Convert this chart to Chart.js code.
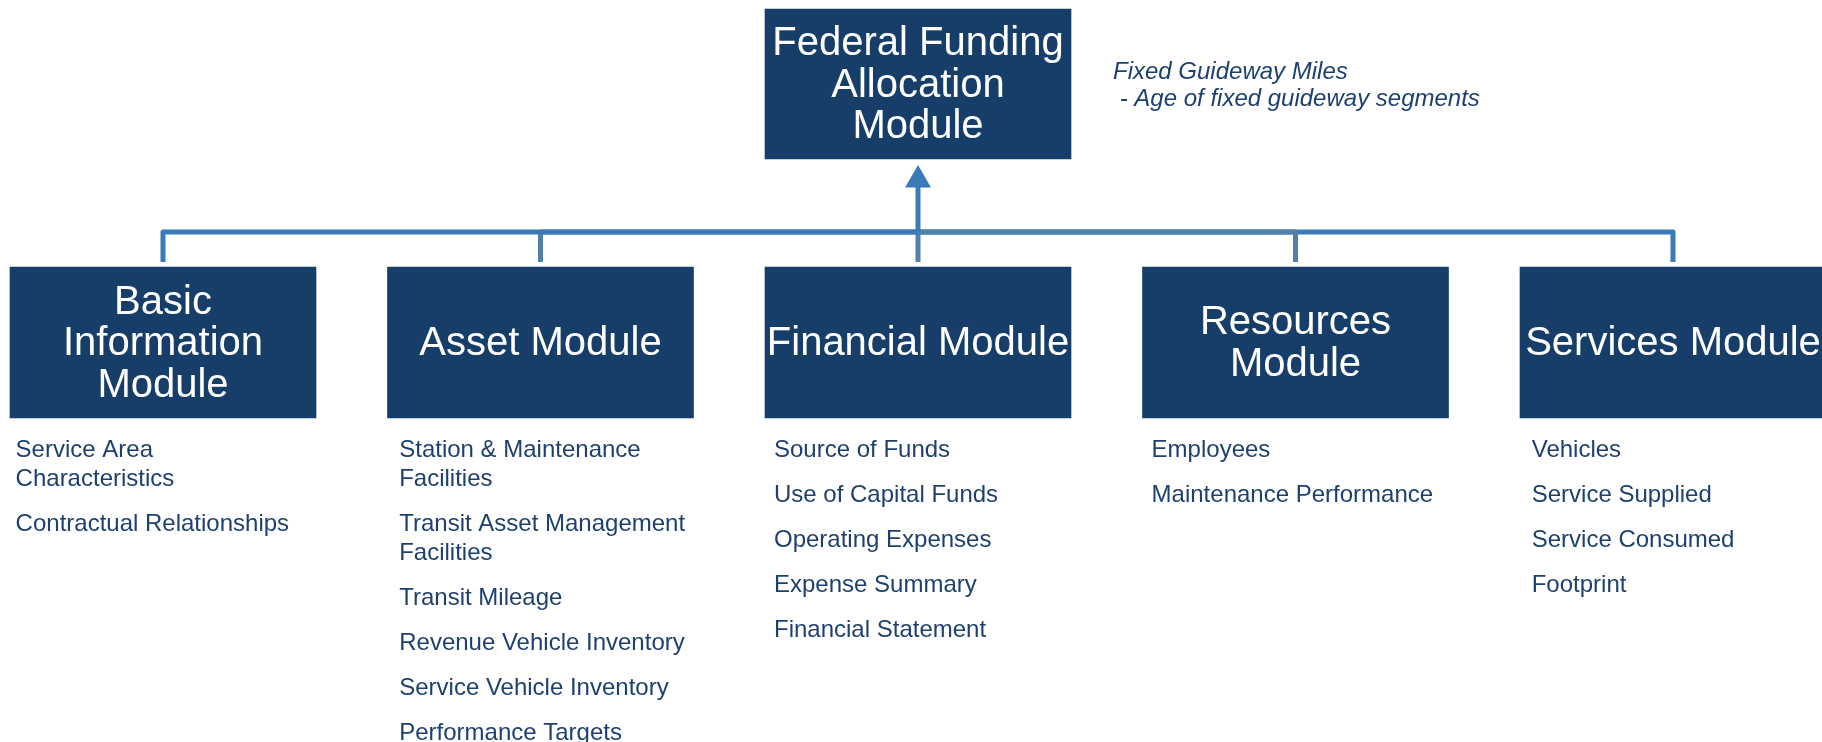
<!DOCTYPE html>
<html><head><meta charset="utf-8">
<script src="https://cdn.jsdelivr.net/npm/chart.js@4/dist/chart.umd.min.js"></script>
<style>html,body{margin:0;padding:0;background:#fff}#wrap{width:1822px;height:742px;position:relative}</style>
</head><body><div id="wrap"><canvas id="c"></canvas></div>
<script>
// ---------- data ----------
const topModuleLines = ['Federal Funding', 'Allocation', 'Module'];
const moduleNames = ['Basic Information Module', 'Asset Module', 'Financial Module', 'Resources Module', 'Services Module'];
const moduleLabelLines = [['Basic', 'Information', 'Module'], ['Asset Module'], ['Financial Module'], ['Resources', 'Module'], ['Services Module']];
const basicItems = [['Service Area', 'Characteristics'], ['Contractual Relationships']];
const assetItems = [['Station & Maintenance', 'Facilities'], ['Transit Asset Management', 'Facilities'], ['Transit Mileage'], ['Revenue Vehicle Inventory'], ['Service Vehicle Inventory'], ['Performance Targets']];
const financialItems = [['Source of Funds'], ['Use of Capital Funds'], ['Operating Expenses'], ['Expense Summary'], ['Financial Statement']];
const resourcesItems = [['Employees'], ['Maintenance Performance']];
const servicesItems = [['Vehicles'], ['Service Supplied'], ['Service Consumed'], ['Footprint']];
const annotationLines = ['Fixed Guideway Miles', ' - Age of fixed guideway segments'];
const moduleItems = [basicItems, assetItems, financialItems, resourcesItems, servicesItems];
const parentColumn = 2;
const moduleColumns = [0, 1, 2, 3, 4];
const brightConnectors = [true, false, false, false, true];

// ---------- layout / style ----------
const L = {
  W: 1822, H: 742, colStart: 163, colStep: 377.5, boxWidth: 306,
  topBox: [9, 159], moduleBox: [267, 418],
  busY: 232, stemEnd: 262, arrowBase: 232, arrowCenter: 180, arrowR: 15,
  boxFont: 40, boxLine: 41.5, boxCapShift: -1.8,
  itemFont: 24, itemFirstBaseline: 457, itemLine: 29, itemStep: 44.9,
  itemOffsets: [5.6, 11.7, 9, 9.1, 11.7],
  annFont: 24, annDX: 42, annBaselines: [79, 106],
  boxColor: '#173E69', textColor: '#1E4070', bright: '#3A7AB8', grey: '#5080AB', lineW: 5
};
const FONT = '"Liberation Sans", Arial, sans-serif';
const xMin = -L.colStart / L.colStep;
const xMax = xMin + L.W / L.colStep;

// connectors
const connectorSets = moduleColumns.map(i => {
  const pts = [{x: i, y: L.stemEnd}, {x: i, y: L.busY}];
  if (i !== parentColumn) pts.push({x: parentColumn, y: L.busY});
  return {
    type: 'line', label: moduleNames[i] + ' link', data: pts,
    borderColor: brightConnectors[i] ? L.bright : L.grey, borderWidth: L.lineW,
    borderJoinStyle: 'round', borderCapStyle: 'butt', pointRadius: 0, tension: 0, fill: false
  };
});
const arrowSet = {
  type: 'line', label: 'arrow',
  data: [{x: parentColumn, y: L.arrowBase}, {x: parentColumn, y: L.arrowCenter}],
  borderColor: L.bright, borderWidth: L.lineW, pointRadius: [0, L.arrowR], pointStyle: 'triangle',
  pointBackgroundColor: L.bright, pointBorderWidth: 0, fill: false, tension: 0
};
// draw order: first dataset drawn on top
const datasets = [
  arrowSet, connectorSets[0], connectorSets[3], connectorSets[1], connectorSets[4], connectorSets[2],
  {type: 'bar', label: 'top', data: [{x: parentColumn, y: L.topBox}], backgroundColor: L.boxColor,
   barThickness: L.boxWidth, grouped: false, borderWidth: 0},
  {type: 'bar', label: 'modules', data: moduleColumns.map(i => ({x: i, y: L.moduleBox})), backgroundColor: L.boxColor,
   barThickness: L.boxWidth, grouped: false, borderWidth: 0}
];
const TOP_IDX = 6, MOD_IDX = 7;

const textPlugin = {
  id: 'texts',
  afterDatasetsDraw(chart) {
    const ctx = chart.ctx;
    const yS = chart.scales.y;
    ctx.save();
    const drawBoxLabel = (lines, bar) => {
      const cy = (bar.y + bar.base) / 2 + L.boxCapShift;
      const cap = 0.716 * L.boxFont / 2;
      const n = lines.length;
      ctx.fillStyle = '#ffffff';
      ctx.textAlign = 'center';
      ctx.textBaseline = 'alphabetic';
      ctx.font = `${L.boxFont}px ${FONT}`;
      lines.forEach((t, k) => ctx.fillText(t, bar.x, cy + (k - (n - 1) / 2) * L.boxLine + cap));
    };
    const topBar = chart.getDatasetMeta(TOP_IDX).data[0];
    drawBoxLabel(topModuleLines, topBar);
    const modBars = chart.getDatasetMeta(MOD_IDX).data;
    modBars.forEach((bar, i) => drawBoxLabel(moduleLabelLines[i], bar));

    // items
    ctx.fillStyle = L.textColor;
    ctx.textAlign = 'left';
    ctx.font = `${L.itemFont}px ${FONT}`;
    modBars.forEach((bar, i) => {
      const x0 = bar.x - bar.width / 2 + L.itemOffsets[i];
      let yb = yS.getPixelForValue(L.itemFirstBaseline);
      moduleItems[i].forEach(item => {
        item.forEach((t, k) => ctx.fillText(t, x0, yb + k * L.itemLine));
        yb += L.itemStep + (item.length - 1) * L.itemLine;
      });
    });

    // annotation
    ctx.font = `italic ${L.annFont}px ${FONT}`;
    const ax = topBar.x + topBar.width / 2 + L.annDX;
    annotationLines.forEach((t, k) => ctx.fillText(t, ax, yS.getPixelForValue(L.annBaselines[k])));
    ctx.restore();
  }
};

new Chart(document.getElementById('c'), {
  type: 'bar',
  data: {datasets},
  options: {
    responsive: true, maintainAspectRatio: false, animation: false, events: [],
    layout: {padding: 0, autoPadding: false},
    plugins: {legend: {display: false}, tooltip: {enabled: false}, title: {display: false}},
    scales: {
      x: {type: 'linear', min: xMin, max: xMax, display: false, offset: false},
      y: {type: 'linear', min: 0, max: L.H, reverse: true, display: false}
    }
  },
  plugins: [textPlugin]
});
</script></body></html>
